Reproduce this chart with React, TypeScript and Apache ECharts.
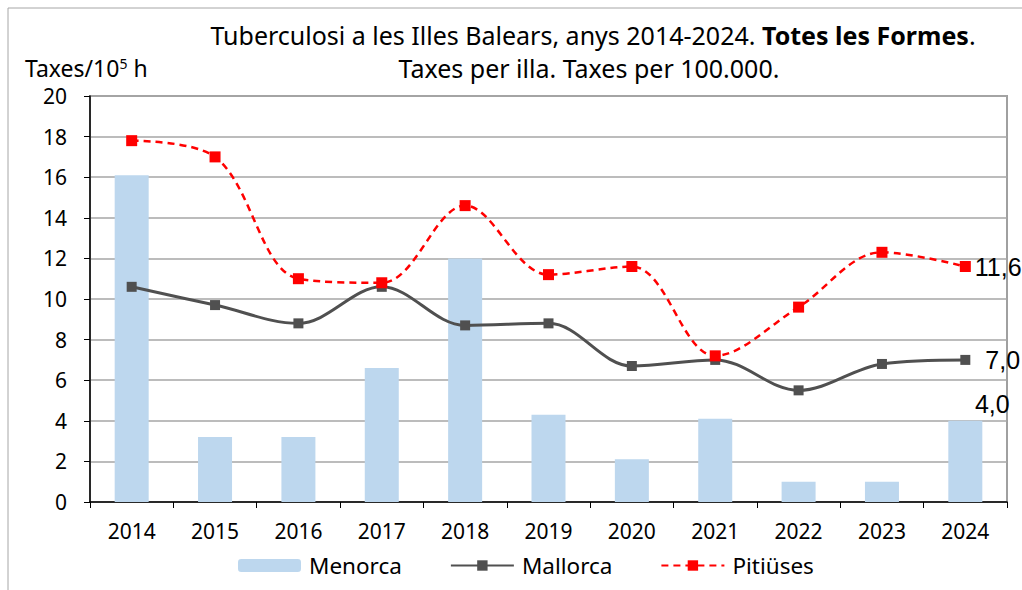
import React, { useEffect, useRef } from "react";
import * as echarts from "echarts";

const years = ["2014", "2015", "2016", "2017", "2018", "2019", "2020", "2021", "2022", "2023", "2024"];
const menorca = [16.1, 3.2, 3.2, 6.6, 12.0, 4.3, 2.1, 4.1, 1.0, 1.0, 4.0];
const mallorca = [10.6, 9.7, 8.8, 10.6, 8.7, 8.8, 6.7, 7.0, 5.5, 6.8, 7.0];
const pitiuses = [17.8, 17.0, 11.0, 10.8, 14.6, 11.2, 11.6, 7.2, 9.6, 12.3, 11.6];
const yTicks = { min: 0, max: 20, interval: 2 };

const FONT = "Noto Sans";
const LABEL_FONT = "Liberation Sans";
const fmt = (v: number) => v.toFixed(1).replace(".", ",");

export default function App() {
  const ref = useRef<HTMLDivElement>(null);
  useEffect(() => {
    if (!ref.current) return;
    const chart = echarts.init(ref.current, undefined, { renderer: "svg" });
    const last = years.length - 1;
    const endLabel = (v: number, extra: any) => ({
      show: true,
      formatter: () => fmt(v),
      fontFamily: LABEL_FONT,
      fontSize: 25,
      color: "#000",
      ...extra,
    });
    chart.setOption({
      animation: false,
      backgroundColor: "#fff",
      textStyle: { fontFamily: FONT },
      grid: {
        left: 90,
        top: 96,
        width: 917,
        height: 406,
        show: true,
        borderColor: "#a0a0a0",
        borderWidth: 2,
        containLabel: false,
      },
      graphic: [
        {
          type: "rect",
          shape: { x: 8, y: 8, width: 1200, height: 800 },
          style: { fill: "none", stroke: "#a6a6a6", lineWidth: 1 },
          silent: true,
        },
        {
          type: "text",
          x: 593,
          y: 35,
          style: {
            text: "Tuberculosi a les Illes Balears, anys 2014-2024. {b|Totes les Formes}.",
            fontFamily: FONT,
            fontSize: 25,
            fill: "#000",
            align: "center",
            verticalAlign: "middle",
            rich: { b: { fontWeight: "bold", fontSize: 25, fontFamily: FONT } },
          },
        },
        {
          type: "text",
          x: 589,
          y: 68,
          style: {
            text: "Taxes per illa. Taxes per 100.000.",
            fontFamily: FONT,
            fontSize: 25,
            fill: "#000",
            align: "center",
            verticalAlign: "middle",
          },
        },
        {
          type: "text",
          x: 25,
          y: 68,
          style: {
            text: "Taxes/10{s|5} h",
            fontFamily: FONT,
            fontSize: 23,
            fill: "#000",
            verticalAlign: "middle",
            rich: { s: { fontSize: 14, verticalAlign: "top", padding: [0, 0, 10, 0], fontFamily: FONT } },
          },
        },
      ],
      legend: {
        left: 233,
        top: 549,
        itemWidth: 63,
        itemHeight: 13,
        itemGap: 48,
        textStyle: { fontFamily: FONT, fontSize: 22.5, color: "#000", padding: [0, 0, 0, 3] },
        data: ["Menorca", "Mallorca", "Pitiüses"],
      },
      xAxis: {
        type: "category",
        data: years,
        axisLine: { lineStyle: { color: "#000", width: 1.5 } },
        axisTick: { show: true, length: 6, inside: false, lineStyle: { color: "#000" } },
        axisLabel: { fontFamily: FONT, fontSize: 21, color: "#000", margin: 18 },
      },
      yAxis: {
        type: "value",
        min: yTicks.min,
        max: yTicks.max,
        interval: yTicks.interval,
        axisLine: { show: true, lineStyle: { color: "#000", width: 1.5 } },
        axisTick: { show: true, length: 6, lineStyle: { color: "#000" } },
        axisLabel: { fontFamily: FONT, fontSize: 21, color: "#000", margin: 23 },
        splitLine: { lineStyle: { color: "#a6a6a6", width: 1.5 } },
      },
      series: [
        {
          name: "Menorca",
          type: "bar",
          data: menorca.map((v, i) =>
            i === last
              ? { value: v, label: endLabel(v, { position: "top", offset: [27, 0], distance: 4 }) }
              : v
          ),
          barWidth: 34,
          itemStyle: { color: "#bdd7ee" },
        },
        {
          name: "Mallorca",
          type: "line",
          data: mallorca.map((v, i) =>
            i === last
              ? { value: v, label: endLabel(v, { position: "right", distance: 15 }) }
              : v
          ),
          smooth: 0.35,
          symbol: "rect",
          symbolSize: 10,
          lineStyle: { color: "#505050", width: 3 },
          itemStyle: { color: "#505050" },
        },
        {
          name: "Pitiüses",
          type: "line",
          data: pitiuses.map((v, i) =>
            i === last
              ? { value: v, label: endLabel(v, { position: "right", distance: 4 }) }
              : v
          ),
          smooth: 0.35,
          symbol: "rect",
          symbolSize: 11,
          lineStyle: { color: "#ff0000", width: 2.5, type: [7, 5] },
          itemStyle: { color: "#ff0000" },
        },
      ],
    });
    return () => chart.dispose();
  }, []);
  return (
    <div
      ref={ref}
      style={{ position: "fixed", left: 0, top: 0, width: 1022, height: 590, background: "#fff" }}
    />
  );
}
